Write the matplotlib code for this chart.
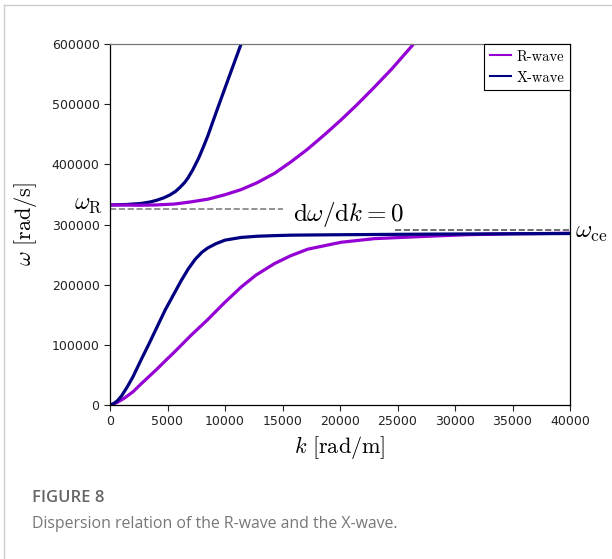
import matplotlib
matplotlib.use('Agg')
import matplotlib.pyplot as plt
from matplotlib.lines import Line2D

# values (k in rad/m, omega in rad/s)
k_r_lo = [0, 600, 1220, 2000, 2700, 4100, 5000, 5600, 7000, 8500, 9900, 11400,
          12700, 14300, 15700, 17200, 20100, 23000, 27700, 31000, 35000, 40000]
w_r_lo = [0, 4000, 11000, 22000, 35000, 60000, 77000, 88000, 115000, 142000, 169000, 196000,
          216000, 235000, 248000, 259000, 270500, 276500, 280500, 283000, 284500, 285500]

k_r_up = [0, 2700, 4000, 5600, 7000, 8500, 10000, 11400, 12800, 14300, 15800,
          17200, 18700, 20100, 21500, 23000, 24500, 26400]
w_r_up = [332500, 332000, 332500, 334000, 337500, 342000, 349500, 358000, 369500, 385000, 405000,
          425500, 450000, 474000, 499500, 528500, 558500, 600000]

k_x_lo = [0, 300, 640, 1000, 1500, 2000, 2700, 3400, 4100, 4800, 5600, 6200, 6800, 7400,
          8000, 8500, 9200, 10000, 11400, 12800, 14300, 15800, 20000, 27700, 34000, 40000]
w_x_lo = [0, 2000, 7000, 15000, 30000, 47000, 75000, 102000, 130000, 158000, 186000, 207000,
          226000, 242000, 254000, 261000, 268000, 274000, 278500, 280500, 281500, 282300,
          283000, 284000, 284500, 285000]

k_x_up = [0, 1500, 2700, 3500, 4100, 4700, 5200, 5700, 6100, 6500, 6800, 7200, 7700,
          8100, 8500, 9300, 10250, 11400]
w_x_up = [332500, 333300, 335000, 337500, 340500, 344500, 349000, 355000, 362000, 370000,
          378000, 391000, 410000, 428000, 447000, 490000, 540000, 600000]

w_R_line = 326500
k_R_line = [0, 15000]
w_ce_line = 290500
k_ce_line = [24800, 40000]

xticks = [0, 5000, 10000, 15000, 20000, 25000, 30000, 35000, 40000]
yticks = [0, 100000, 200000, 300000, 400000, 500000, 600000]

plt.rcParams['mathtext.fontset'] = 'cm'

fig = plt.figure(figsize=(6.12, 5.59), dpi=100)
ax = fig.add_axes([110/612, 1 - 405/559, 460/612, 361/559])

r_col = '#9400D3'
x_col = '#000080'

ax.plot(k_r_lo, w_r_lo, color=r_col, lw=2.3, label='R-wave')
ax.plot(k_x_lo, w_x_lo, color=x_col, lw=2.3, label='X-wave')
ax.plot(k_x_up, w_x_up, color=x_col, lw=2.3)
ax.plot(k_r_up, w_r_up, color=r_col, lw=2.3)

ax.plot(k_R_line, [w_R_line, w_R_line], color='gray', ls='--', lw=1.2)
ax.plot(k_ce_line, [w_ce_line, w_ce_line], color='#555555', ls='--', lw=1.2)

ax.set_xlim(0, 40000)
ax.set_ylim(0, 600000)
ax.set_xticks(xticks)
ax.set_yticks(yticks)
ax.tick_params(labelsize=9, length=4, width=0.8, colors='#222222')
for s in ax.spines.values():
    s.set_linewidth(0.9)
ax.spines['top'].set_color('#777777')

ax.set_xlabel(r'$k\ [\mathrm{rad/m}]$', fontsize=16, labelpad=4)
ax.set_ylabel(r'$\omega\ [\mathrm{rad/s}]$', fontsize=16, labelpad=9)

ax.text(-600, 336000, r'$\omega_\mathrm{R}$', fontsize=17, ha='right', va='center')
ax.text(15900, 316000, r'$\mathrm{d}\omega/\mathrm{d}k = 0$', fontsize=18, ha='left', va='center')
ax.text(40400, 287000, r'$\omega_\mathrm{ce}$', fontsize=18, ha='left', va='center')

leg = ax.legend(loc='upper right', borderaxespad=0, fancybox=False, edgecolor='black',
                framealpha=1, handlelength=1.4, handletextpad=0.4,
                prop={'family': 'cmr10', 'size': 10.5})
leg.get_frame().set_linewidth(0.8)
for h in leg.get_lines():
    h.set_linewidth(1.5)

# page frame and caption
fig.add_artist(Line2D([4/612, 1], [1 - 5/559, 1 - 5/559], color='#cccccc', lw=1))
fig.add_artist(Line2D([4/612, 4/612], [0, 1 - 5/559], color='#cccccc', lw=1))
fig.text(32/612, 1 - 498/559, 'FIGURE 8', fontsize=12, color='#666666',
         family='Open Sans', fontweight='semibold', va='center')
fig.text(32/612, 1 - 524/559, 'Dispersion relation of the R-wave and the X-wave.',
         fontsize=11.4, color='#777777', family='Open Sans', va='center')

fig.savefig('out.png', dpi=100)
